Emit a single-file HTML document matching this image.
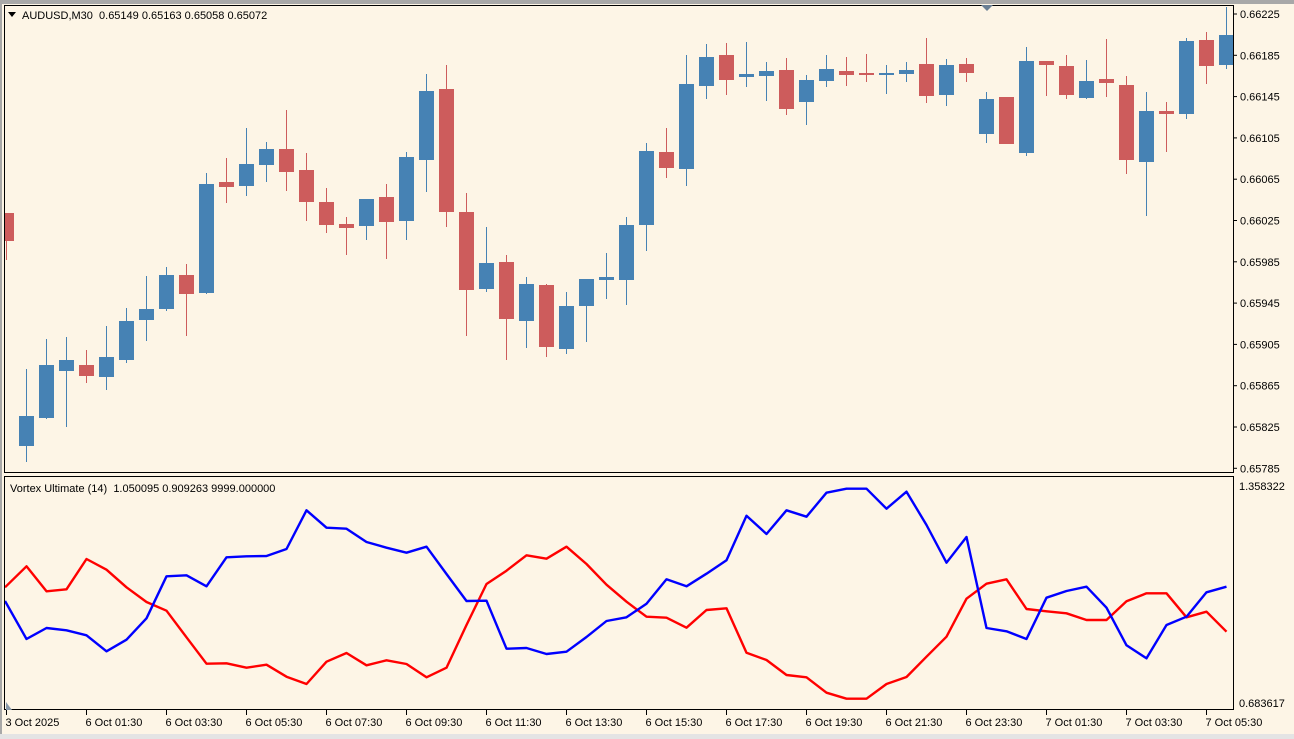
<!DOCTYPE html>
<html><head><meta charset="utf-8"><style>
html,body{margin:0;padding:0;background:#fdf5e6;}
svg{display:block;font-family:"Liberation Sans",sans-serif;}
text{white-space:pre;}
</style></head><body>
<svg id="s" width="1294" height="739" xmlns="http://www.w3.org/2000/svg">
<rect x="0" y="0" width="1294" height="739" fill="#fdf5e6"/>
<rect x="0" y="0" width="1294" height="4" fill="#a8a8a8"/>
<rect x="0" y="0" width="2" height="739" fill="#a8a8a8"/>
<rect x="0" y="734" width="1294" height="5" fill="#e4e4e4"/>
<g id="g"></g>
<rect x="4.5" y="5.5" width="1229" height="467" fill="none" stroke="#000" stroke-width="1"/>
<rect x="4.5" y="476.5" width="1229" height="233" fill="none" stroke="#000" stroke-width="1"/>
<path d="M981,5 L993,5 L987,11 Z" fill="#6a7f94"/>
<path d="M6,702 L6,710 L12,710 Z" fill="#8a9aaa"/>
<path d="M8,12 L16,12 L12,17 Z" fill="#000"/>
<text x="22" y="19" font-size="11" fill="#000">AUDUSD,M30&#160; 0.65149 0.65163 0.65058 0.65072</text>
<text x="10" y="492" font-size="11" fill="#000">Vortex Ultimate (14)&#160; 1.050095 0.909263 9999.000000</text>
<text x="1239" y="490" font-size="11" fill="#000">1.358322</text>
<text x="1239" y="707" font-size="11" fill="#000">0.683617</text>
</svg>
<script>
var g=document.getElementById('g'),h='';
var C=[[1,'r',213,260,213,241],[2,'b',369,462,416,446],[3,'b',339,419,365,418],[4,'b',337,427,360,371],[5,'r',350,383,365,376],[6,'b',326,390,357,377],[7,'b',308,363,321,360],[8,'b',276,341,309,320],[9,'b',267,311,275,309],[10,'r',264,336,275,294],[11,'b',173,294,184,293],[12,'r',158,203,182,187],[13,'b',128,196,164,186],[14,'b',142,182,149,165],[15,'r',110,191,149,172],[16,'r',153,221,170,202],[17,'r',188,233,202,225],[18,'r',217,255,224,228],[19,'b',199,240,199,226],[20,'r',184,259,197,222],[21,'b',152,240,157,221],[22,'b',74,192,91,160],[23,'r',65,227,89,212],[24,'r',193,336,212,290],[25,'b',227,292,263,289],[26,'r',255,360,262,319],[27,'b',277,348,284,321],[28,'r',284,357,285,347],[29,'b',292,354,306,349],[30,'b',279,342,279,306],[31,'b',253,299,277,280],
[32,'b',217,305,225,280],[33,'b',143,251,151,225],[34,'r',128,178,152,168],[35,'b',55,186,84,169],[36,'b',44,99,57,86],[37,'r',43,95,55,80],[38,'b',42,87,74,77],[39,'b',62,101,71,76],[40,'r',58,115,70,109],[41,'b',75,125,80,102],[42,'b',55,87,69,81],[43,'r',57,86,71,75],[44,'r',54,82,73,75],[45,'b',65,94,73,75],[46,'b',62,82,70,74],[47,'r',38,103,64,96],[48,'b',59,106,65,95],[49,'r',58,82,64,73],[50,'b',92,143,99,134],[51,'r',97,144,97,144],[52,'b',47,156,61,153],[53,'r',61,96,61,65],[54,'r',55,99,66,95],[55,'b',60,99,81,98],[56,'r',39,97,79,83],[57,'r',76,174,85,160],[58,'b',92,216,111,162],[59,'r',102,152,111,114],[60,'b',38,119,41,114],[61,'r',32,84,40,66],[62,'b',7,69,35,65]];
function X(i){return 6.5+20*(i-1);}
C.forEach(function(c){var x=X(c[0]),col=c[1]=='b'?'#4682b4':'#cd5c5c';
var wt=Math.max(c[2],6);
h+='<line x1="'+x+'" y1="'+wt+'" x2="'+x+'" y2="'+c[3]+'" stroke="'+col+'" stroke-width="1"/>';
var bt=c[4],bb=Math.max(c[5],c[4]+2),bl=Math.max(x-7.5,5);
h+='<rect x="'+bl+'" y="'+bt+'" width="'+(x+7.5-bl)+'" height="'+(bb-bt)+'" fill="'+col+'"/>';});
var B=[378,492,459,466,481,529,494,430,304,301,334,247,244,243,222,106,158,161,201,218,233,215,297,378,377,521,519,537,530,486,438,427,386,313,334,296,256,122,177,106,125,53,41,41,101,50,150,263,186,459,469,492,368,348,335,398,511,550,450,425,352,335];
var R=[337,274,349,343,252,284,337,381,407,487,566,565,578,569,605,627,560,534,571,556,567,607,578,450,327,287,241,251,215,267,329,380,425,428,458,405,400,533,555,600,607,653,671,671,627,606,545,485,371,326,313,402,409,415,435,435,379,355,355,427,410,470];
function P(a){return a.map(function(v,k){return (k==0?5:X(k+1)).toFixed(1)+','+(475+v/3).toFixed(1);}).join(' ');}
h+='<polyline points="'+P(R)+'" fill="none" stroke="#ff0000" stroke-width="2.4" stroke-linejoin="round"/>';
h+='<polyline points="'+P(B)+'" fill="none" stroke="#0000ff" stroke-width="2.4" stroke-linejoin="round"/>';
var pl=['0.66225','0.66185','0.66145','0.66105','0.66065','0.66025','0.65985','0.65945','0.65905','0.65865','0.65825','0.65785'];
pl.forEach(function(t,k){var y=14+k*41.3;h+='<line x1="1234" y1="'+y+'" x2="1237" y2="'+y+'" stroke="#000"/><text x="1240" y="'+(y+4)+'" font-size="11">'+t+'</text>';});
var tl=['3 Oct 2025','6 Oct 01:30','6 Oct 03:30','6 Oct 05:30','6 Oct 07:30','6 Oct 09:30','6 Oct 11:30','6 Oct 13:30','6 Oct 15:30','6 Oct 17:30','6 Oct 19:30','6 Oct 21:30','6 Oct 23:30','7 Oct 01:30','7 Oct 03:30','7 Oct 05:30'];
tl.forEach(function(t,k){var x=6.5+80*k;h+='<line x1="'+x+'" y1="710" x2="'+x+'" y2="715" stroke="#000"/><text x="'+(x-1)+'" y="726" font-size="11">'+t+'</text>';});
g.innerHTML=h;
</script>
</body></html>
